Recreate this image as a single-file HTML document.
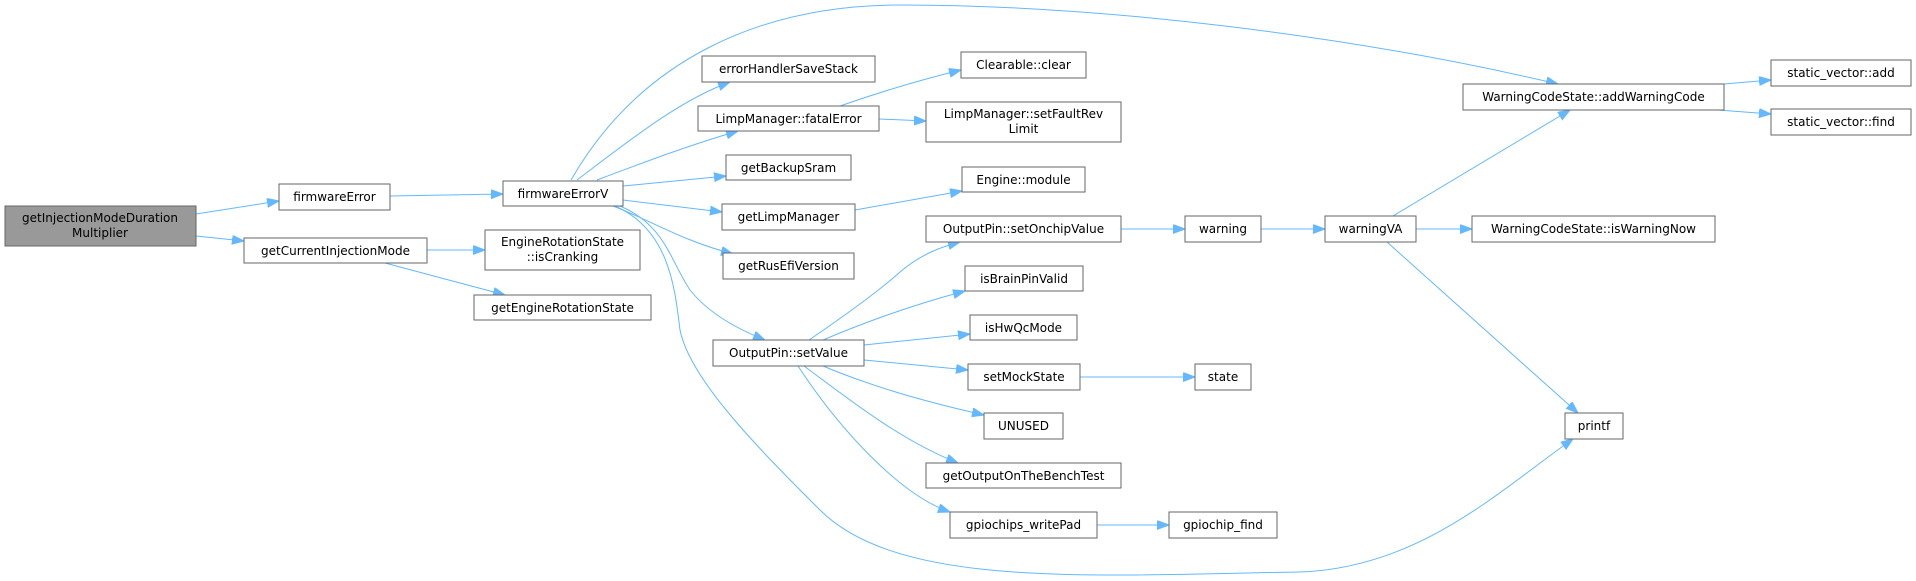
<!DOCTYPE html>
<html><head><meta charset="utf-8"><style>
html,body{margin:0;padding:0;background:#fff;}
svg{display:block;}
text{font-family:"DejaVu Sans","Liberation Sans",sans-serif;font-size:12px;fill:#000;}
.b{fill:#fff;stroke:#666;stroke-width:1;}
.e{fill:none;stroke:#63b8ff;stroke-width:1;marker-end:url(#a);}
</style></head><body>
<svg width="1916" height="581" viewBox="0 0 1916 581" xmlns="http://www.w3.org/2000/svg">
<defs><marker id="a" markerWidth="13" markerHeight="10" refX="12" refY="4.5" orient="auto" markerUnits="userSpaceOnUse"><path d="M0,0 L12,4.5 L0,9 z" fill="#63b8ff" stroke="#63b8ff"/></marker></defs>
<g>
<path class="e" d="M196,214 L279,201"/>
<path class="e" d="M196,236 L244,241"/>
<path class="e" d="M390,196 L503,194"/>
<path class="e" d="M427,250 L485,250"/>
<path class="e" d="M385,263 L505,295"/>
<path class="e" d="M571,180 C640,60 760,5 900,5 C1100,5 1350,35 1558,84"/>
<path class="e" d="M577,180 C630,140 680,100 730,82"/>
<path class="e" d="M597,180 C650,160 690,145 738,131"/>
<path class="e" d="M623,186 L726,176"/>
<path class="e" d="M623,200 L722,212"/>
<path class="e" d="M613,206 C650,220 680,240 733,254"/>
<path class="e" d="M620,206 C665,225 670,260 690,290 C710,315 740,330 765,340"/>
<path class="e" d="M615,206 C670,230 675,290 680,330 C690,380 760,450 820,510 C900,590 1100,575 1300,572 C1420,568 1500,490 1573,439"/>
<path class="e" d="M840,106 C880,92 920,80 961,70"/>
<path class="e" d="M879,119 L926,121"/>
<path class="e" d="M855,210 L962,191"/>
<path class="e" d="M809,340 C850,312 880,290 900,272 C920,255 940,247 960,242"/>
<path class="e" d="M823,340 C870,320 920,303 965,291"/>
<path class="e" d="M864,345 L970,334"/>
<path class="e" d="M864,360 L968,370"/>
<path class="e" d="M823,366 C880,390 940,405 984,415"/>
<path class="e" d="M804,366 C850,400 900,440 958,463"/>
<path class="e" d="M798,366 C840,430 900,495 950,512"/>
<path class="e" d="M1121,229 L1185,229"/>
<path class="e" d="M1261,229 L1325,229"/>
<path class="e" d="M1393,216 L1570,110"/>
<path class="e" d="M1416,229 L1472,229"/>
<path class="e" d="M1387,242 L1578,413"/>
<path class="e" d="M1724,84 L1771,80"/>
<path class="e" d="M1718,110 L1771,114"/>
<path class="e" d="M1080,377 L1195,377"/>
<path class="e" d="M1097,525 L1169,525"/>
</g>
<g>
<rect x="5" y="206" width="191" height="40" style="fill:#999;stroke:#666"/>
<text x="100" y="222" text-anchor="middle">getInjectionModeDuration</text>
<text x="100" y="237" text-anchor="middle">Multiplier</text>

<rect class="b" x="279" y="184" width="111" height="26"/><text x="334.5" y="201" text-anchor="middle">firmwareError</text>
<rect class="b" x="244" y="238" width="183" height="25"/><text x="335.5" y="255" text-anchor="middle">getCurrentInjectionMode</text>
<rect class="b" x="503" y="181" width="120" height="25"/><text x="563" y="198" text-anchor="middle">firmwareErrorV</text>
<rect class="b" x="485" y="230" width="155" height="40"/><text x="562.5" y="246" text-anchor="middle">EngineRotationState</text><text x="562.5" y="261" text-anchor="middle">::isCranking</text>
<rect class="b" x="474" y="295" width="177" height="25"/><text x="562.5" y="312" text-anchor="middle">getEngineRotationState</text>

<rect class="b" x="702" y="56" width="173" height="26"/><text x="788.5" y="73" text-anchor="middle">errorHandlerSaveStack</text>
<rect class="b" x="698" y="106" width="181" height="25"/><text x="788.5" y="123" text-anchor="middle">LimpManager::fatalError</text>
<rect class="b" x="726" y="155" width="125" height="25"/><text x="788.5" y="172" text-anchor="middle">getBackupSram</text>
<rect class="b" x="722" y="204" width="133" height="26"/><text x="788.5" y="221" text-anchor="middle">getLimpManager</text>
<rect class="b" x="723" y="253" width="131" height="26"/><text x="788.5" y="270" text-anchor="middle">getRusEfiVersion</text>
<rect class="b" x="713" y="340" width="151" height="26"/><text x="788.5" y="357" text-anchor="middle">OutputPin::setValue</text>

<rect class="b" x="961" y="52" width="125" height="26"/><text x="1023.5" y="69" text-anchor="middle">Clearable::clear</text>
<rect class="b" x="926" y="102" width="195" height="40"/><text x="1023.5" y="118" text-anchor="middle">LimpManager::setFaultRev</text><text x="1023.5" y="133" text-anchor="middle">Limit</text>
<rect class="b" x="962" y="167" width="123" height="25"/><text x="1023.5" y="184" text-anchor="middle">Engine::module</text>
<rect class="b" x="926" y="216" width="195" height="26"/><text x="1023.5" y="233" text-anchor="middle">OutputPin::setOnchipValue</text>
<rect class="b" x="965" y="266" width="118" height="25"/><text x="1024" y="283" text-anchor="middle">isBrainPinValid</text>
<rect class="b" x="970" y="315" width="107" height="25"/><text x="1023.5" y="332" text-anchor="middle">isHwQcMode</text>
<rect class="b" x="968" y="364" width="112" height="26"/><text x="1024" y="381" text-anchor="middle">setMockState</text>
<rect class="b" x="984" y="413" width="79" height="26"/><text x="1023.5" y="430" text-anchor="middle">UNUSED</text>
<rect class="b" x="926" y="463" width="195" height="25"/><text x="1023.5" y="480" text-anchor="middle">getOutputOnTheBenchTest</text>
<rect class="b" x="950" y="512" width="147" height="26"/><text x="1023.5" y="529" text-anchor="middle">gpiochips_writePad</text>

<rect class="b" x="1185" y="216" width="76" height="26"/><text x="1223" y="233" text-anchor="middle">warning</text>
<rect class="b" x="1195" y="364" width="56" height="26"/><text x="1223" y="381" text-anchor="middle">state</text>
<rect class="b" x="1169" y="512" width="108" height="26"/><text x="1223" y="529" text-anchor="middle">gpiochip_find</text>
<rect class="b" x="1325" y="216" width="91" height="26"/><text x="1370.5" y="233" text-anchor="middle">warningVA</text>

<rect class="b" x="1463" y="84" width="261" height="26"/><text x="1593.5" y="101" text-anchor="middle">WarningCodeState::addWarningCode</text>
<rect class="b" x="1472" y="216" width="243" height="26"/><text x="1593.5" y="233" text-anchor="middle">WarningCodeState::isWarningNow</text>
<rect class="b" x="1565" y="413" width="58" height="26"/><text x="1594" y="430" text-anchor="middle">printf</text>
<rect class="b" x="1771" y="60" width="140" height="26"/><text x="1841" y="77" text-anchor="middle">static_vector::add</text>
<rect class="b" x="1771" y="109" width="140" height="26"/><text x="1841" y="126" text-anchor="middle">static_vector::find</text>
</g>
</svg>
</body></html>
